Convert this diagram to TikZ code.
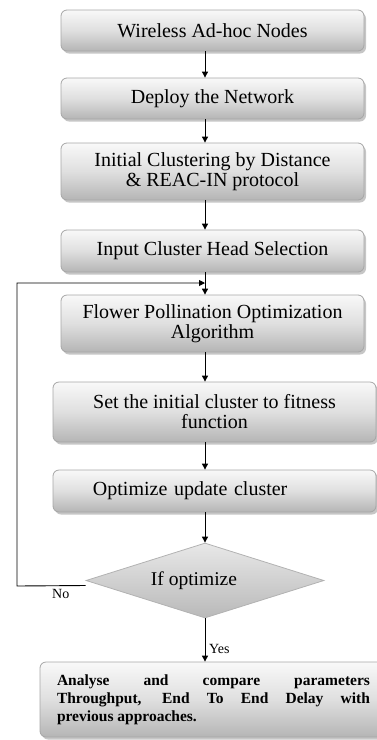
\documentclass[tikz,border=0pt]{standalone}
\usepackage{fontspec}
\setmainfont{Liberation Serif}
\usetikzlibrary{shapes.geometric,shadows,arrows.meta}
\begin{document}
\begin{tikzpicture}[x=1pt,y=-1pt,
  stepbox/.style={rectangle, rounded corners=6pt, draw=gray!70, line width=0.8pt,
    top color=gray!5, bottom color=gray!58, middle color=gray!25,
    drop shadow={shadow xshift=2pt, shadow yshift=-2.5pt, opacity=0.45},
    font=\fontsize{20}{20}\selectfont, align=center, inner sep=2pt},
  decide/.style={diamond, draw=gray!60, line width=0.8pt, aspect=3.15,
    top color=gray!18, bottom color=gray!55, inner sep=0pt,
    font=\fontsize{19.5}{20}\selectfont},
  flow/.style={-{Triangle[length=6pt,width=6pt]}, line width=0.9pt},
  tag/.style={font=\fontsize{14}{14}\selectfont, inner sep=0pt}]
\useasboundingbox (0,0) rectangle (376,740);

\node[stepbox, minimum width=303pt, minimum height=41pt] (n1) at (212.5,30.5) {Wireless Ad-hoc Nodes};
\node[stepbox, minimum width=303pt, minimum height=41pt] (n2) at (212.5,98.5) {Deploy the Network};
\node[stepbox, minimum width=303pt, minimum height=57pt] (n3) at (212.5,171.5) {Initial Clustering by Distance\\ \& REAC-IN protocol};
\node[stepbox, minimum width=303pt, minimum height=42pt] (n4) at (212.5,251) {Input Cluster Head Selection};
\node[stepbox, minimum width=303pt, minimum height=57pt] (n5) at (212.5,323.5) {Flower Pollination Optimization\\ Algorithm};
\node[stepbox, minimum width=323pt, minimum height=60pt] (n6) at (214.5,412) {Set the initial cluster to fitness\\ function};
\node[stepbox, minimum width=323pt, minimum height=42pt, text width=283pt, align=left, inner xsep=0pt] (n7) at (214.5,491) {\hspace*{20pt}Optimize update cluster};
\node[decide, minimum width=238pt, minimum height=75pt] (dec) at (205,580.5) {\hspace*{-22pt}If optimize};
\node[stepbox, minimum width=347pt, minimum height=75pt, text width=313pt, align=justify,
  font=\fontsize{15.5}{18}\selectfont\bfseries] (n8) at (213.5,699.5)
  {Analyse and compare parameters\linebreak Throughput, End To End Delay with\linebreak previous approaches.};

\coordinate (join) at (205,283);
\coordinate (back) at (17,586);

\draw[flow] (n1.south -| join) -- (n2.north -| join);
\draw[flow] (n2.south -| join) -- (n3.north -| join);
\draw[flow] (n3.south -| join) -- (n4.north -| join);
\draw[flow] (n4.south -| join) -- (n5.north -| join);
\draw[flow] (n5.south -| join) -- (n6.north -| join);
\draw[flow] (n6.south -| join) -- (n7.north -| join);
\draw[flow] (n7.south -| join) -- (dec.north);
\draw[flow] (dec.south) -- (n8.north -| dec.south);
\draw[flow] ([yshift=-5pt]dec.west) -- (back) |- (join);

\node[tag, anchor=north west] (no) at (52,589) {No};
\node[tag, anchor=west] (yes) at (209,649) {Yes};
\end{tikzpicture}
\end{document}
